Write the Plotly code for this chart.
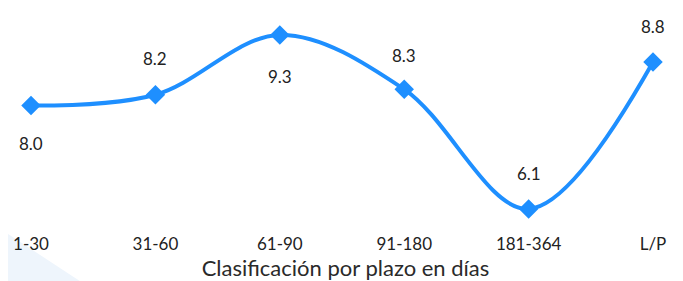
import plotly.graph_objects as go

categories = ["1-30", "31-60", "61-90", "91-180", "181-364", "L/P"]
values = [8.0, 8.2, 9.3, 8.3, 6.1, 8.8]
label_shift = [-38, 36, -42, 34, 35, 36]

BLUE = "#1E8FFF"
FONT = "Lato"

fig = go.Figure()
fig.add_trace(go.Scatter(
    x=categories, y=values, mode="lines+markers",
    line=dict(color=BLUE, width=4, shape="spline", smoothing=1),
    marker=dict(symbol="diamond", size=15, color=BLUE),
    hoverinfo="skip", showlegend=False,
))

for c, v, s in zip(categories, values, label_shift):
    fig.add_annotation(x=c, y=v, text=f"{v:.1f}", showarrow=False, yshift=s,
                       font=dict(family=FONT, size=17, color="#222"))

fig.add_shape(type="path", xref="paper", yref="paper",
              path="M -0.02 -0.02 L 0.107 -0.3 L -0.02 -0.3 Z",
              fillcolor="#EEF5FC", line=dict(width=0), layer="below")

fig.update_layout(
    width=675, height=273,
    margin=dict(l=0, r=0, t=12, b=60),
    paper_bgcolor="white", plot_bgcolor="white",
    xaxis=dict(type="category", range=[-0.185, 5.241], showgrid=False, zeroline=False,
               showline=False, ticks="outside", ticklen=8, tickcolor="rgba(0,0,0,0)",
               tickfont=dict(family=FONT, size=17, color="#222"),
               title=dict(text="Clasificación por plazo en días", standoff=6,
                          font=dict(family=FONT, size=22, color="#2a2a2a"))),
    yaxis=dict(range=[5.879, 9.574], visible=False),
)

fig.write_html("out.html")
